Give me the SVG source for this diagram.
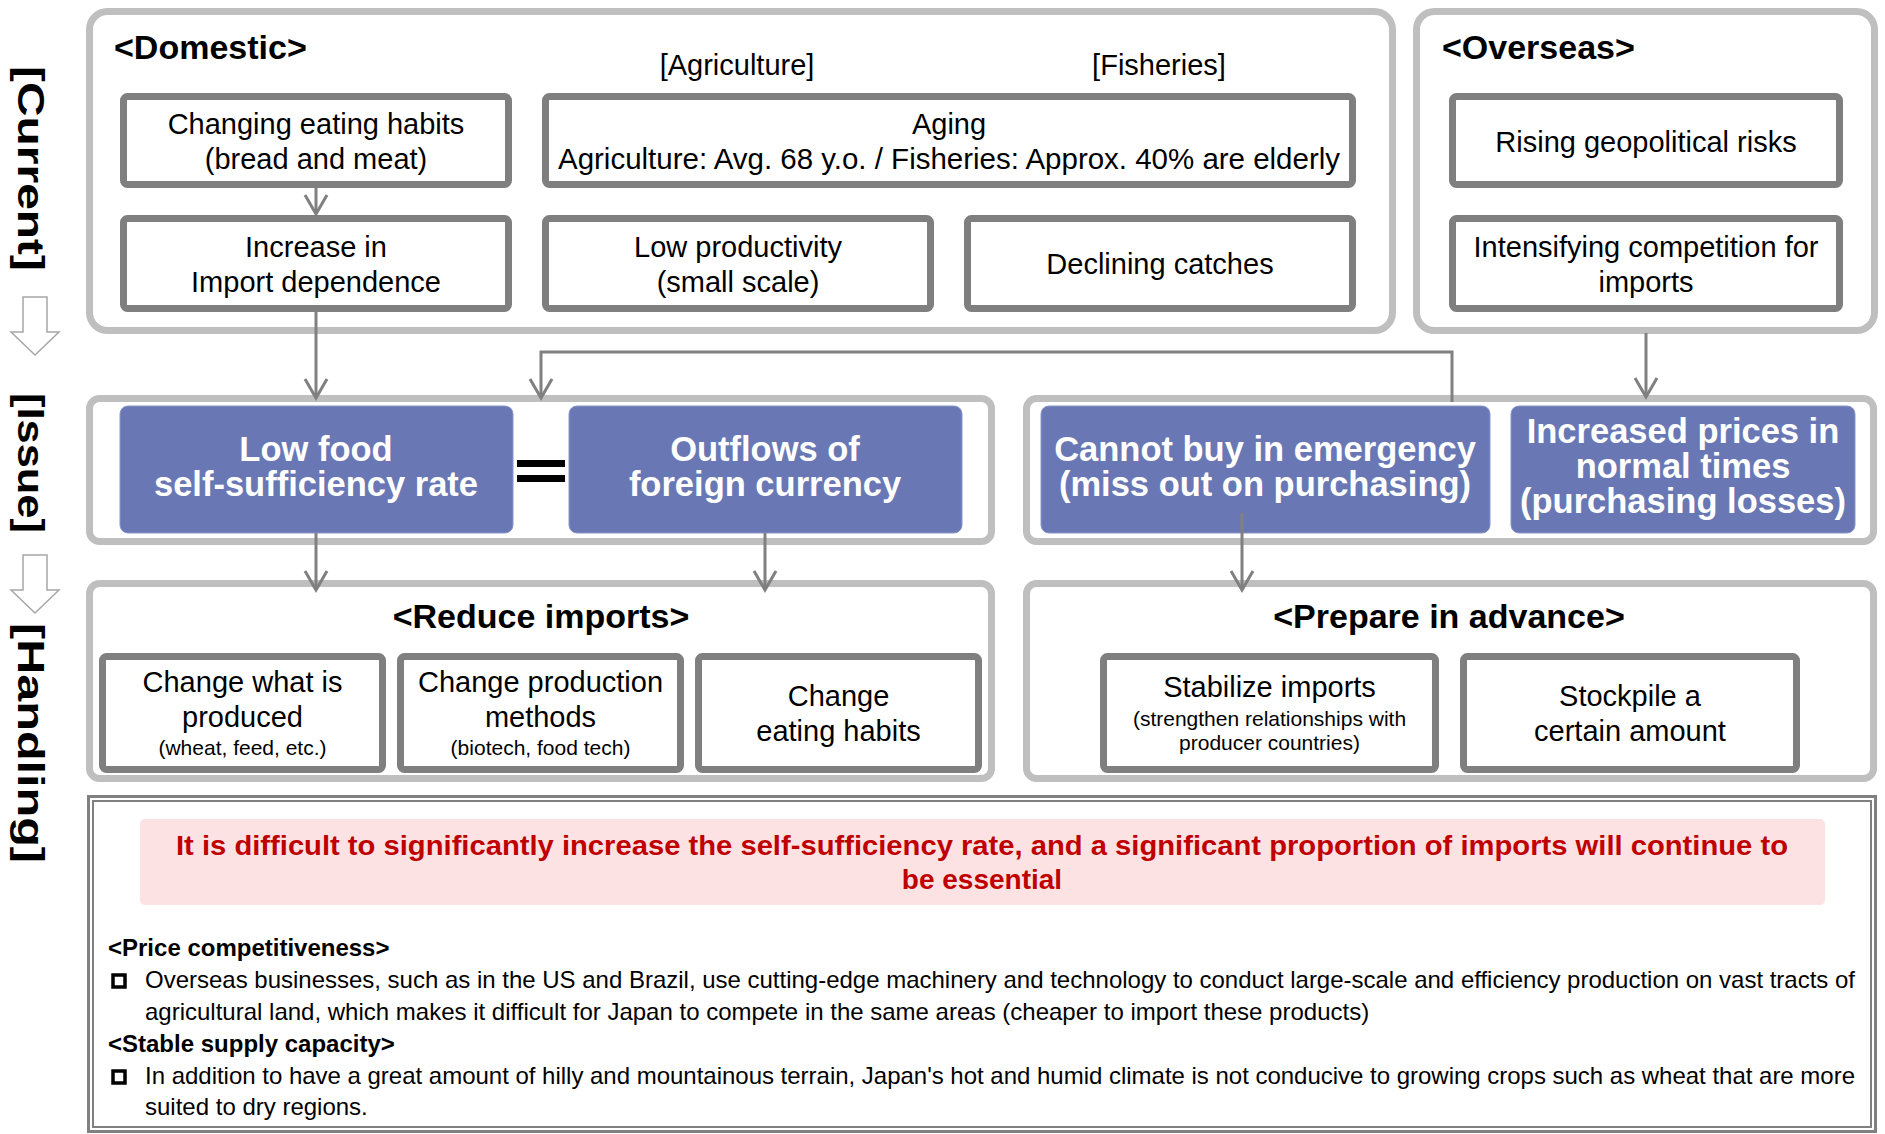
<svg xmlns="http://www.w3.org/2000/svg" width="1885" height="1134" viewBox="0 0 1885 1134">
<defs>
<style>
text{font-family:"Liberation Sans",Arial,Helvetica,sans-serif;}
.cont{fill:#fff;stroke:#BFBFBF;stroke-width:7;}
.box{fill:#fff;stroke:#7F7F7F;stroke-width:7;}
.blue{fill:#6978B4;stroke:#8A96C8;stroke-width:1;}
.t29{font-size:29px;fill:#000;text-anchor:middle;}
.t21{font-size:21px;fill:#000;text-anchor:middle;}
.h34{font-size:34px;font-weight:bold;fill:#000;}
.hc{text-anchor:middle;}
.w34{font-size:34.5px;font-weight:bold;fill:#fff;text-anchor:middle;}
.red{font-size:28px;font-weight:bold;fill:#C00000;text-anchor:middle;}
.b24{font-size:24px;fill:#000;}
.hb24{font-size:24px;font-weight:bold;fill:#000;}
.lab{font-size:36px;font-weight:bold;fill:#000;}
.conn{fill:none;stroke:#808080;stroke-width:3;}
.harrow{fill:#fff;stroke:#A6A6A6;stroke-width:1.5;}
.bullet{fill:#fff;stroke:#000;stroke-width:3.5;}
</style>
<marker id="ah" markerUnits="userSpaceOnUse" markerWidth="30" markerHeight="30" viewBox="-25 -15 30 30" refX="0" refY="0" orient="auto">
<path d="M-19,-11 L0,0 L-19,11" fill="none" stroke="#808080" stroke-width="3"/>
</marker>
</defs>
<rect width="1885" height="1134" fill="#fff"/>

<!-- side labels -->
<g id="side-labels">
<text class="lab" transform="translate(18,66) rotate(90)" textLength="205" lengthAdjust="spacingAndGlyphs">[Current]</text>
<polygon class="harrow" points="23,297 47,297 47,332 59,332 35,355 11,332 23,332"/>
<text class="lab" transform="translate(18,393) rotate(90)" textLength="140" lengthAdjust="spacingAndGlyphs">[Issue]</text>
<polygon class="harrow" points="23,555 47,555 47,590 59,590 35,613 11,590 23,590"/>
<text class="lab" transform="translate(18,623) rotate(90)" textLength="240" lengthAdjust="spacingAndGlyphs">[Handling]</text>
</g>

<!-- containers -->
<g id="domestic">
<rect class="cont" x="89.5" y="11.5" width="1303" height="319" rx="18"/>
<text class="h34" x="114" y="59">&lt;Domestic&gt;</text>
<text class="t29" x="737" y="75">[Agriculture]</text>
<text class="t29" x="1159" y="75">[Fisheries]</text>
</g>
<g id="overseas">
<rect class="cont" x="1416.5" y="11.5" width="458" height="319" rx="18"/>
<text class="h34" x="1442" y="59">&lt;Overseas&gt;</text>
</g>
<g id="issue-left"><rect class="cont" x="89.5" y="398.5" width="902" height="143" rx="10"/></g>
<g id="issue-right"><rect class="cont" x="1026.5" y="398.5" width="847" height="143" rx="10"/></g>
<g id="reduce-imports">
<rect class="cont" x="89.5" y="583.5" width="902" height="195" rx="10"/>
<text class="h34 hc" x="541" y="628">&lt;Reduce imports&gt;</text>
</g>
<g id="prepare-in-advance">
<rect class="cont" x="1026.5" y="583.5" width="847" height="195" rx="10"/>
<text class="h34 hc" x="1449" y="628">&lt;Prepare in advance&gt;</text>
</g>

<!-- domestic nodes -->
<g id="changing-eating-habits">
<rect class="box" x="123.5" y="96.5" width="385" height="88" rx="4"/>
<text class="t29" x="316" y="134">Changing eating habits</text>
<text class="t29" x="316" y="169">(bread and meat)</text>
</g>
<g id="aging">
<rect class="box" x="545.5" y="96.5" width="807" height="88" rx="4"/>
<text class="t29" x="949" y="134">Aging</text>
<text class="t29" x="949" y="169" textLength="782" lengthAdjust="spacingAndGlyphs">Agriculture: Avg. 68 y.o. / Fisheries: Approx. 40% are elderly</text>
</g>
<g id="increase-import-dependence">
<rect class="box" x="123.5" y="218.5" width="385" height="90" rx="4"/>
<text class="t29" x="316" y="257">Increase in</text>
<text class="t29" x="316" y="292">Import dependence</text>
</g>
<g id="low-productivity">
<rect class="box" x="545.5" y="218.5" width="385" height="90" rx="4"/>
<text class="t29" x="738" y="257">Low productivity</text>
<text class="t29" x="738" y="292">(small scale)</text>
</g>
<g id="declining-catches">
<rect class="box" x="967.5" y="218.5" width="385" height="90" rx="4"/>
<text class="t29" x="1160" y="274">Declining catches</text>
</g>
<g id="rising-geopolitical-risks">
<rect class="box" x="1452.5" y="96.5" width="387" height="88" rx="4"/>
<text class="t29" x="1646" y="152">Rising geopolitical risks</text>
</g>
<g id="intensifying-competition">
<rect class="box" x="1452.5" y="218.5" width="387" height="90" rx="4"/>
<text class="t29" x="1646" y="257">Intensifying competition for</text>
<text class="t29" x="1646" y="292">imports</text>
</g>

<!-- issue nodes -->
<g id="low-food-self-sufficiency">
<rect class="blue" x="120" y="406" width="393" height="127" rx="8"/>
<text class="w34" x="316" y="461">Low food</text>
<text class="w34" x="316" y="496">self-sufficiency rate</text>
</g>
<g id="equals">
<rect x="517" y="460" width="48" height="7" fill="#000"/>
<rect x="517" y="475" width="48" height="7" fill="#000"/>
</g>
<g id="outflows-foreign-currency">
<rect class="blue" x="569" y="406" width="393" height="127" rx="8"/>
<text class="w34" x="765" y="461">Outflows of</text>
<text class="w34" x="765" y="496">foreign currency</text>
</g>
<g id="cannot-buy">
<rect class="blue" x="1041" y="406" width="449" height="127" rx="8"/>
<text class="w34" x="1265" y="461">Cannot buy in emergency</text>
<text class="w34" x="1265" y="496">(miss out on purchasing)</text>
</g>
<g id="increased-prices">
<rect class="blue" x="1511" y="406" width="344" height="127" rx="8"/>
<text class="w34" x="1683" y="443">Increased prices in</text>
<text class="w34" x="1683" y="478">normal times</text>
<text class="w34" x="1683" y="513">(purchasing losses)</text>
</g>

<!-- handling nodes -->
<g id="change-what-is-produced">
<rect class="box" x="102.5" y="656.5" width="280" height="113" rx="4"/>
<text class="t29" x="242.5" y="692">Change what is</text>
<text class="t29" x="242.5" y="727">produced</text>
<text class="t21" x="242.5" y="755">(wheat, feed, etc.)</text>
</g>
<g id="change-production-methods">
<rect class="box" x="400.5" y="656.5" width="280" height="113" rx="4"/>
<text class="t29" x="540.5" y="692">Change production</text>
<text class="t29" x="540.5" y="727">methods</text>
<text class="t21" x="540.5" y="755">(biotech, food tech)</text>
</g>
<g id="change-eating-habits">
<rect class="box" x="698.5" y="656.5" width="280" height="113" rx="4"/>
<text class="t29" x="838.5" y="706">Change</text>
<text class="t29" x="838.5" y="741">eating habits</text>
</g>
<g id="stabilize-imports">
<rect class="box" x="1103.5" y="656.5" width="332" height="113" rx="4"/>
<text class="t29" x="1269.5" y="697">Stabilize imports</text>
<text class="t21" x="1269.5" y="726">(strengthen relationships with</text>
<text class="t21" x="1269.5" y="750">producer countries)</text>
</g>
<g id="stockpile">
<rect class="box" x="1463.5" y="656.5" width="333" height="113" rx="4"/>
<text class="t29" x="1630" y="706">Stockpile a</text>
<text class="t29" x="1630" y="741">certain amount</text>
</g>

<!-- connectors -->
<g id="connectors">
<line class="conn" x1="316" y1="188" x2="316" y2="214" marker-end="url(#ah)"/>
<line class="conn" x1="316" y1="312" x2="316" y2="398" marker-end="url(#ah)"/>
<line class="conn" x1="1646" y1="333" x2="1646" y2="397" marker-end="url(#ah)"/>
<polyline class="conn" points="1452,402 1452,352 541,352 541,398" marker-end="url(#ah)"/>
<line class="conn" x1="316" y1="533" x2="316" y2="590" marker-end="url(#ah)"/>
<line class="conn" x1="765" y1="533" x2="765" y2="590" marker-end="url(#ah)"/>
<line class="conn" x1="1242" y1="513" x2="1242" y2="590" marker-end="url(#ah)"/>
</g>

<!-- conclusion -->
<g id="conclusion">
<rect x="88.5" y="796.5" width="1787" height="335" fill="#fff" stroke="#808080" stroke-width="3"/>
<rect x="93" y="801" width="1778" height="326" fill="none" stroke="#808080" stroke-width="2"/>
<rect x="140" y="819" width="1685" height="86" rx="5" fill="#FDE2E4"/>
<text class="red" x="982" y="855" textLength="1612" lengthAdjust="spacingAndGlyphs">It is difficult to significantly increase the self-sufficiency rate, and a significant proportion of imports will continue to</text>
<text class="red" x="982" y="889">be essential</text>
<text class="hb24" x="108" y="956">&lt;Price competitiveness&gt;</text>
<rect class="bullet" x="113" y="975" width="12" height="12"/>
<text class="b24" x="145" y="988" textLength="1710" lengthAdjust="spacing">Overseas businesses, such as in the US and Brazil, use cutting-edge machinery and technology to conduct large-scale and efficiency production on vast tracts of</text>
<text class="b24" x="145" y="1020">agricultural land, which makes it difficult for Japan to compete in the same areas (cheaper to import these products)</text>
<text class="hb24" x="108" y="1052">&lt;Stable supply capacity&gt;</text>
<rect class="bullet" x="113" y="1071" width="12" height="12"/>
<text class="b24" x="145" y="1084" textLength="1710" lengthAdjust="spacing">In addition to have a great amount of hilly and mountainous terrain, Japan's hot and humid climate is not conducive to growing crops such as wheat that are more</text>
<text class="b24" x="145" y="1115">suited to dry regions.</text>
</g>
</svg>
